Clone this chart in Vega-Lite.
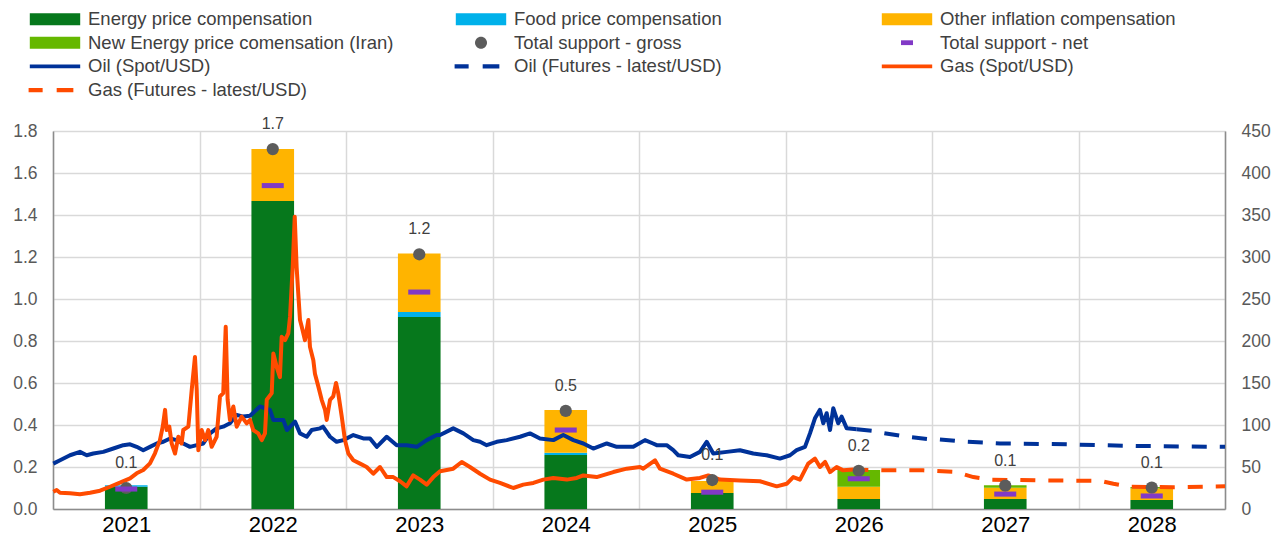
{
  "$schema": "https://vega.github.io/schema/vega-lite/v6.json",
  "width": 1172,
  "height": 378,
  "autosize": {"type": "none"},
  "padding": {"left": 53, "top": 131, "right": 51, "bottom": 29},
  "background": "white",
  "config": {
    "view": {"stroke": null},
    "font": "Liberation Sans",
    "axis": {"labelFont": "Liberation Sans", "titleFont": "Liberation Sans"},
    "legend": {"labelFont": "Liberation Sans"}
  },
  "datasets": {
    "bars": [
      {"year": "2021", "component": "Energy price compensation", "value": 0.106},
      {"year": "2021", "component": "Food price compensation", "value": 0.007},
      {"year": "2022", "component": "Energy price compensation", "value": 1.467},
      {"year": "2022", "component": "Other inflation compensation", "value": 0.247},
      {"year": "2023", "component": "Energy price compensation", "value": 0.914},
      {"year": "2023", "component": "Food price compensation", "value": 0.024},
      {"year": "2023", "component": "Other inflation compensation", "value": 0.279},
      {"year": "2024", "component": "Energy price compensation", "value": 0.257},
      {"year": "2024", "component": "Food price compensation", "value": 0.011},
      {"year": "2024", "component": "Other inflation compensation", "value": 0.203},
      {"year": "2025", "component": "Energy price compensation", "value": 0.076},
      {"year": "2025", "component": "Other inflation compensation", "value": 0.057},
      {"year": "2026", "component": "Energy price compensation", "value": 0.048},
      {"year": "2026", "component": "Other inflation compensation", "value": 0.058},
      {"year": "2026", "component": "New Energy price comensation (Iran)", "value": 0.08},
      {"year": "2027", "component": "Energy price compensation", "value": 0.048},
      {"year": "2027", "component": "Other inflation compensation", "value": 0.053},
      {"year": "2027", "component": "New Energy price comensation (Iran)", "value": 0.012},
      {"year": "2028", "component": "Energy price compensation", "value": 0.043},
      {"year": "2028", "component": "Other inflation compensation", "value": 0.055},
      {"year": "2028", "component": "New Energy price comensation (Iran)", "value": 0.007}
    ],
    "totals": [
      {"year": "2021", "gross": 0.1, "net": 0.095},
      {"year": "2022", "gross": 1.714, "net": 1.54},
      {"year": "2023", "gross": 1.213, "net": 1.033},
      {"year": "2024", "gross": 0.467, "net": 0.376},
      {"year": "2025", "gross": 0.138, "net": 0.08},
      {"year": "2026", "gross": 0.182, "net": 0.144},
      {"year": "2027", "gross": 0.111, "net": 0.071},
      {"year": "2028", "gross": 0.102, "net": 0.062}
    ],
    "oil_spot": [
      {"t": 2021.002, "v": 54}, {"t": 2021.048, "v": 58}, {"t": 2021.116, "v": 64}, {"t": 2021.184, "v": 68},
      {"t": 2021.23, "v": 64}, {"t": 2021.275, "v": 66}, {"t": 2021.343, "v": 68}, {"t": 2021.412, "v": 72},
      {"t": 2021.48, "v": 76}, {"t": 2021.526, "v": 77}, {"t": 2021.571, "v": 74}, {"t": 2021.616, "v": 70},
      {"t": 2021.662, "v": 74}, {"t": 2021.708, "v": 78}, {"t": 2021.753, "v": 80}, {"t": 2021.799, "v": 84},
      {"t": 2021.844, "v": 82}, {"t": 2021.889, "v": 78}, {"t": 2021.935, "v": 74}, {"t": 2021.981, "v": 76},
      {"t": 2022.026, "v": 78}, {"t": 2022.072, "v": 90}, {"t": 2022.117, "v": 96}, {"t": 2022.162, "v": 98},
      {"t": 2022.208, "v": 102}, {"t": 2022.254, "v": 112}, {"t": 2022.299, "v": 110}, {"t": 2022.345, "v": 111},
      {"t": 2022.413, "v": 122}, {"t": 2022.481, "v": 118}, {"t": 2022.504, "v": 106}, {"t": 2022.572, "v": 106},
      {"t": 2022.597, "v": 94}, {"t": 2022.652, "v": 104}, {"t": 2022.686, "v": 90}, {"t": 2022.732, "v": 86},
      {"t": 2022.766, "v": 94}, {"t": 2022.823, "v": 96}, {"t": 2022.843, "v": 98}, {"t": 2022.891, "v": 86},
      {"t": 2022.936, "v": 80}, {"t": 2022.982, "v": 82}, {"t": 2023.05, "v": 88}, {"t": 2023.118, "v": 84},
      {"t": 2023.164, "v": 84}, {"t": 2023.21, "v": 74}, {"t": 2023.278, "v": 86}, {"t": 2023.346, "v": 76},
      {"t": 2023.414, "v": 76}, {"t": 2023.483, "v": 74}, {"t": 2023.551, "v": 82}, {"t": 2023.619, "v": 88},
      {"t": 2023.642, "v": 88}, {"t": 2023.732, "v": 96}, {"t": 2023.801, "v": 90}, {"t": 2023.869, "v": 82},
      {"t": 2023.915, "v": 80}, {"t": 2023.96, "v": 76}, {"t": 2024.029, "v": 80}, {"t": 2024.097, "v": 82},
      {"t": 2024.188, "v": 86}, {"t": 2024.256, "v": 90}, {"t": 2024.324, "v": 84}, {"t": 2024.415, "v": 82},
      {"t": 2024.483, "v": 88}, {"t": 2024.552, "v": 82}, {"t": 2024.62, "v": 78}, {"t": 2024.688, "v": 72},
      {"t": 2024.78, "v": 78}, {"t": 2024.848, "v": 74}, {"t": 2024.916, "v": 74}, {"t": 2024.961, "v": 74},
      {"t": 2025.041, "v": 82}, {"t": 2025.096, "v": 78}, {"t": 2025.121, "v": 76}, {"t": 2025.189, "v": 76},
      {"t": 2025.234, "v": 70}, {"t": 2025.268, "v": 64}, {"t": 2025.348, "v": 62}, {"t": 2025.416, "v": 68},
      {"t": 2025.462, "v": 80}, {"t": 2025.507, "v": 66}, {"t": 2025.599, "v": 68}, {"t": 2025.689, "v": 70},
      {"t": 2025.78, "v": 66}, {"t": 2025.871, "v": 64}, {"t": 2025.962, "v": 60}, {"t": 2026.031, "v": 64},
      {"t": 2026.076, "v": 70}, {"t": 2026.133, "v": 74}, {"t": 2026.167, "v": 90}, {"t": 2026.201, "v": 108},
      {"t": 2026.235, "v": 118}, {"t": 2026.258, "v": 102}, {"t": 2026.281, "v": 114}, {"t": 2026.304, "v": 94},
      {"t": 2026.326, "v": 120}, {"t": 2026.36, "v": 102}, {"t": 2026.383, "v": 110}, {"t": 2026.418, "v": 96},
      {"t": 2026.486, "v": 95}
    ],
    "oil_fut": [
      {"t": 2026.486, "v": 95}, {"t": 2026.6, "v": 93}, {"t": 2026.645, "v": 91}, {"t": 2026.827, "v": 86},
      {"t": 2026.986, "v": 83}, {"t": 2027.032, "v": 83}, {"t": 2027.237, "v": 80}, {"t": 2027.464, "v": 78},
      {"t": 2027.737, "v": 77.5}, {"t": 2027.919, "v": 77}, {"t": 2028.147, "v": 76}, {"t": 2028.42, "v": 75},
      {"t": 2028.7, "v": 74.5}, {"t": 2029.0, "v": 74}
    ],
    "gas_spot": [
      {"t": 2021.002, "v": 20.6}, {"t": 2021.025, "v": 22.6}, {"t": 2021.048, "v": 19.4}, {"t": 2021.116, "v": 18.7},
      {"t": 2021.184, "v": 17.5}, {"t": 2021.253, "v": 19.4}, {"t": 2021.321, "v": 21.8}, {"t": 2021.389, "v": 26.5},
      {"t": 2021.457, "v": 31.3}, {"t": 2021.526, "v": 36.5}, {"t": 2021.571, "v": 42.5}, {"t": 2021.616, "v": 46.4},
      {"t": 2021.662, "v": 54.4}, {"t": 2021.696, "v": 66.3}, {"t": 2021.73, "v": 82}, {"t": 2021.749, "v": 98},
      {"t": 2021.765, "v": 118}, {"t": 2021.776, "v": 94}, {"t": 2021.794, "v": 98}, {"t": 2021.81, "v": 78},
      {"t": 2021.833, "v": 66}, {"t": 2021.855, "v": 86}, {"t": 2021.878, "v": 78}, {"t": 2021.889, "v": 94},
      {"t": 2021.924, "v": 98}, {"t": 2021.947, "v": 142}, {"t": 2021.969, "v": 181}, {"t": 2021.981, "v": 142},
      {"t": 2021.992, "v": 70}, {"t": 2022.015, "v": 94}, {"t": 2022.038, "v": 82}, {"t": 2022.06, "v": 94},
      {"t": 2022.083, "v": 74}, {"t": 2022.117, "v": 86}, {"t": 2022.14, "v": 134}, {"t": 2022.162, "v": 138},
      {"t": 2022.179, "v": 217}, {"t": 2022.192, "v": 130}, {"t": 2022.208, "v": 106}, {"t": 2022.231, "v": 122},
      {"t": 2022.254, "v": 98}, {"t": 2022.288, "v": 110}, {"t": 2022.322, "v": 102}, {"t": 2022.345, "v": 106},
      {"t": 2022.367, "v": 94}, {"t": 2022.401, "v": 90}, {"t": 2022.425, "v": 82}, {"t": 2022.447, "v": 90},
      {"t": 2022.459, "v": 130}, {"t": 2022.493, "v": 138}, {"t": 2022.504, "v": 185}, {"t": 2022.527, "v": 169},
      {"t": 2022.549, "v": 157}, {"t": 2022.561, "v": 205}, {"t": 2022.584, "v": 201}, {"t": 2022.606, "v": 209},
      {"t": 2022.618, "v": 229}, {"t": 2022.636, "v": 288}, {"t": 2022.65, "v": 348}, {"t": 2022.663, "v": 288},
      {"t": 2022.674, "v": 257}, {"t": 2022.686, "v": 225}, {"t": 2022.698, "v": 217}, {"t": 2022.72, "v": 201},
      {"t": 2022.743, "v": 225}, {"t": 2022.754, "v": 193}, {"t": 2022.777, "v": 177}, {"t": 2022.788, "v": 161},
      {"t": 2022.811, "v": 146}, {"t": 2022.834, "v": 130}, {"t": 2022.857, "v": 118}, {"t": 2022.868, "v": 106},
      {"t": 2022.891, "v": 130}, {"t": 2022.913, "v": 134}, {"t": 2022.932, "v": 150}, {"t": 2022.947, "v": 138},
      {"t": 2022.971, "v": 110}, {"t": 2022.993, "v": 82}, {"t": 2023.016, "v": 66}, {"t": 2023.05, "v": 58},
      {"t": 2023.096, "v": 54}, {"t": 2023.141, "v": 50}, {"t": 2023.186, "v": 42}, {"t": 2023.232, "v": 50},
      {"t": 2023.278, "v": 38}, {"t": 2023.323, "v": 38}, {"t": 2023.369, "v": 33}, {"t": 2023.414, "v": 27},
      {"t": 2023.459, "v": 40}, {"t": 2023.505, "v": 35}, {"t": 2023.551, "v": 29}, {"t": 2023.596, "v": 38},
      {"t": 2023.642, "v": 45}, {"t": 2023.732, "v": 48}, {"t": 2023.79, "v": 56}, {"t": 2023.846, "v": 50},
      {"t": 2023.915, "v": 42}, {"t": 2023.983, "v": 35}, {"t": 2024.051, "v": 31}, {"t": 2024.142, "v": 25},
      {"t": 2024.21, "v": 29}, {"t": 2024.279, "v": 31}, {"t": 2024.347, "v": 35}, {"t": 2024.415, "v": 37},
      {"t": 2024.507, "v": 35}, {"t": 2024.575, "v": 37}, {"t": 2024.62, "v": 40}, {"t": 2024.711, "v": 38},
      {"t": 2024.825, "v": 44}, {"t": 2024.916, "v": 48}, {"t": 2025.007, "v": 50}, {"t": 2025.029, "v": 48},
      {"t": 2025.109, "v": 58}, {"t": 2025.143, "v": 48}, {"t": 2025.234, "v": 42}, {"t": 2025.326, "v": 35},
      {"t": 2025.416, "v": 37}, {"t": 2025.473, "v": 40}, {"t": 2025.553, "v": 35}, {"t": 2025.689, "v": 34},
      {"t": 2025.826, "v": 33}, {"t": 2025.94, "v": 27}, {"t": 2026.008, "v": 30}, {"t": 2026.053, "v": 38},
      {"t": 2026.099, "v": 35}, {"t": 2026.155, "v": 54}, {"t": 2026.201, "v": 60}, {"t": 2026.235, "v": 50},
      {"t": 2026.27, "v": 56}, {"t": 2026.304, "v": 44}, {"t": 2026.349, "v": 50}, {"t": 2026.394, "v": 46},
      {"t": 2026.463, "v": 47}
    ],
    "gas_fut": [
      {"t": 2026.463, "v": 47}, {"t": 2026.691, "v": 46}, {"t": 2026.941, "v": 46}, {"t": 2027.168, "v": 44},
      {"t": 2027.282, "v": 38}, {"t": 2027.396, "v": 35}, {"t": 2027.737, "v": 34}, {"t": 2028.147, "v": 33.5},
      {"t": 2028.238, "v": 30}, {"t": 2028.352, "v": 26.5}, {"t": 2028.647, "v": 26}, {"t": 2029.0, "v": 27}
    ],
    "legend_items": [
      {"series": "Energy price compensation"},
      {"series": "Food price compensation"},
      {"series": "Other inflation compensation"},
      {"series": "New Energy price comensation (Iran)"},
      {"series": "Total support - gross"},
      {"series": "Total support - net"},
      {"series": "Oil (Spot/USD)"},
      {"series": "Oil (Futures - latest/USD)"},
      {"series": "Gas (Spot/USD)"},
      {"series": "Gas (Futures - latest/USD)"}
    ]
  },
  "layer": [
    {
      "data": {"name": "bars"},
      "transform": [
        {"calculate": "indexof(['Energy price compensation', 'Food price compensation', 'Other inflation compensation', 'New Energy price comensation (Iran)'], datum.component)", "as": "stack_rank"}
      ],
      "mark": {"type": "bar", "width": {"band": 0.291}},
      "encoding": {
        "x": {
          "field": "year", "type": "ordinal",
          "scale": {"domain": ["2021","2022","2023","2024","2025","2026","2027","2028"], "paddingInner": 0, "paddingOuter": 0},
          "axis": {"title": null, "labelAngle": 0, "tickBand": "extent", "grid": true, "gridColor": "#d9d9d9", "gridWidth": 1.5, "ticks": false, "domainColor": "#8c8c8c", "domainWidth": 1.5, "labelFontSize": 22, "labelColor": "#000000", "labelPadding": 5}
        },
        "y": {
          "field": "value", "type": "quantitative", "stack": "zero",
          "scale": {"domain": [0, 1.8], "nice": false, "zero": true},
          "axis": {"title": null, "values": [0, 0.2, 0.4, 0.6, 0.8, 1.0, 1.2, 1.4, 1.6, 1.8], "format": ".1f", "grid": true, "gridColor": "#d9d9d9", "gridWidth": 1.5, "ticks": false, "domainColor": "#8c8c8c", "domainWidth": 1.5, "labelFontSize": 17.5, "labelColor": "#595959", "labelPadding": 16}
        },
        "fill": {
          "field": "component", "type": "nominal",
          "scale": {
            "domain": ["Energy price compensation", "Food price compensation", "Other inflation compensation", "New Energy price comensation (Iran)"],
            "range": ["#06781c", "#00b1ea", "#ffb400", "#65b800"]
          },
          "legend": null
        },
        "order": {"field": "stack_rank", "type": "quantitative", "sort": "ascending"}
      }
    },
    {
      "data": {"name": "oil_spot"},
      "mark": {"type": "line", "color": "#003299", "strokeWidth": 4, "strokeJoin": "round"},
      "encoding": {
        "x": {"field": "t", "type": "quantitative", "scale": {"domain": [2021, 2029], "nice": false, "zero": false}, "axis": null},
        "y": {"field": "v", "type": "quantitative", "scale": {"domain": [0, 450], "nice": false},
              "axis": {"orient": "right", "title": null, "values": [0, 50, 100, 150, 200, 250, 300, 350, 400, 450], "grid": false, "ticks": false, "domainColor": "#8c8c8c", "domainWidth": 1.5, "labelFontSize": 17.5, "labelColor": "#595959", "labelPadding": 16}}
      }
    },
    {
      "data": {"name": "oil_fut"},
      "mark": {"type": "line", "color": "#003299", "strokeWidth": 4, "strokeDash": [15, 13]},
      "encoding": {
        "x": {"field": "t", "type": "quantitative", "scale": {"domain": [2021, 2029], "nice": false, "zero": false}, "axis": null},
        "y": {"field": "v", "type": "quantitative", "scale": {"domain": [0, 450], "nice": false}, "axis": null}
      }
    },
    {
      "data": {"name": "gas_spot"},
      "mark": {"type": "line", "color": "#ff4b00", "strokeWidth": 4, "strokeJoin": "round"},
      "encoding": {
        "x": {"field": "t", "type": "quantitative", "scale": {"domain": [2021, 2029], "nice": false, "zero": false}, "axis": null},
        "y": {"field": "v", "type": "quantitative", "scale": {"domain": [0, 450], "nice": false}, "axis": null}
      }
    },
    {
      "data": {"name": "gas_fut"},
      "mark": {"type": "line", "color": "#ff4b00", "strokeWidth": 4, "strokeDash": [15, 13]},
      "encoding": {
        "x": {"field": "t", "type": "quantitative", "scale": {"domain": [2021, 2029], "nice": false, "zero": false}, "axis": null},
        "y": {"field": "v", "type": "quantitative", "scale": {"domain": [0, 450], "nice": false}, "axis": null}
      }
    },
    {
      "data": {"name": "totals"},
      "mark": {"type": "point", "filled": true, "opacity": 1, "size": 150, "color": "#5c5c5c", "shape": "circle"},
      "encoding": {
        "x": {"field": "year", "type": "ordinal", "scale": {"domain": ["2021","2022","2023","2024","2025","2026","2027","2028"], "paddingInner": 0, "paddingOuter": 0}, "axis": null},
        "y": {"field": "gross", "type": "quantitative", "scale": {"domain": [0, 1.8], "nice": false}, "axis": null}
      }
    },
    {
      "data": {"name": "totals"},
      "mark": {"type": "point", "filled": true, "opacity": 1, "size": 484, "color": "#8139c6", "shape": "M-1,-0.23H1V0.23H-1Z", "strokeWidth": 0},
      "encoding": {
        "x": {"field": "year", "type": "ordinal", "scale": {"domain": ["2021","2022","2023","2024","2025","2026","2027","2028"], "paddingInner": 0, "paddingOuter": 0}, "axis": null},
        "y": {"field": "net", "type": "quantitative", "scale": {"domain": [0, 1.8], "nice": false}, "axis": null}
      }
    },
    {
      "data": {"name": "totals"},
      "mark": {"type": "text", "dy": -25, "fontSize": 16, "color": "#404040", "font": "Liberation Sans"},
      "encoding": {
        "x": {"field": "year", "type": "ordinal", "scale": {"domain": ["2021","2022","2023","2024","2025","2026","2027","2028"], "paddingInner": 0, "paddingOuter": 0}, "axis": null},
        "y": {"field": "gross", "type": "quantitative", "scale": {"domain": [0, 1.8], "nice": false}, "axis": null},
        "text": {"field": "gross", "type": "quantitative", "format": ".1f"}
      }
    },
    {
      "data": {"name": "legend_items"},
      "mark": {"type": "point", "filled": true, "opacity": 0},
      "encoding": {
        "color": {
          "field": "series", "type": "nominal",
          "scale": {
            "domain": ["Energy price compensation", "Food price compensation", "Other inflation compensation", "New Energy price comensation (Iran)", "Total support - gross", "Total support - net", "Oil (Spot/USD)", "Oil (Futures - latest/USD)", "Gas (Spot/USD)", "Gas (Futures - latest/USD)"],
            "range": ["#06781c", "#00b1ea", "#ffb400", "#65b800", "#5c5c5c", "#8139c6", "#003299", "#003299", "#ff4b00", "#ff4b00"]
          },
          "legend": {"title": null, "orient": "none", "direction": "horizontal", "legendX": -10, "legendY": -124, "columns": 3, "columnPadding": 60, "rowPadding": 1.7, "gridAlign": "all", "symbolSize": 576, "symbolStrokeWidth": 0, "symbolOpacity": 1, "labelFontSize": 18.5, "labelColor": "#404040", "labelOffset": 21, "labelLimit": 500, "symbolLimit": 0}
        },
        "shape": {
          "field": "series", "type": "nominal",
          "scale": {
            "domain": ["Energy price compensation", "Food price compensation", "Other inflation compensation", "New Energy price comensation (Iran)", "Total support - gross", "Total support - net", "Oil (Spot/USD)", "Oil (Futures - latest/USD)", "Gas (Spot/USD)", "Gas (Futures - latest/USD)"],
            "range": [
              "M-2.1,-0.5H2.1V0.5H-2.1Z",
              "M-2.1,-0.5H2.1V0.5H-2.1Z",
              "M-2.1,-0.5H2.1V0.5H-2.1Z",
              "M-2.1,-0.5H2.1V0.5H-2.1Z",
              "M-0.5,0A0.5,0.5 0 1,0 0.5,0A0.5,0.5 0 1,0 -0.5,0Z",
              "M-0.5,-0.2H0.5V0.2H-0.5Z",
              "M-2.1,-0.15H2.1V0.15H-2.1Z",
              "M-2.2,-0.17H-1.03V0.17H-2.2Z M0.14,-0.17H1.53V0.17H0.14Z",
              "M-2.1,-0.15H2.1V0.15H-2.1Z",
              "M-2.2,-0.17H-1.03V0.17H-2.2Z M0.14,-0.17H1.53V0.17H0.14Z"
            ]
          },
          "legend": {"title": null, "orient": "none", "direction": "horizontal", "legendX": -10, "legendY": -124, "columns": 3, "columnPadding": 60, "rowPadding": 1.7, "gridAlign": "all", "symbolSize": 576, "symbolStrokeWidth": 0, "symbolOpacity": 1, "labelFontSize": 18.5, "labelColor": "#404040", "labelOffset": 21, "labelLimit": 500, "symbolLimit": 0}
        }
      }
    }
  ],
  "resolve": {"scale": {"x": "independent", "y": "independent"}}
}
